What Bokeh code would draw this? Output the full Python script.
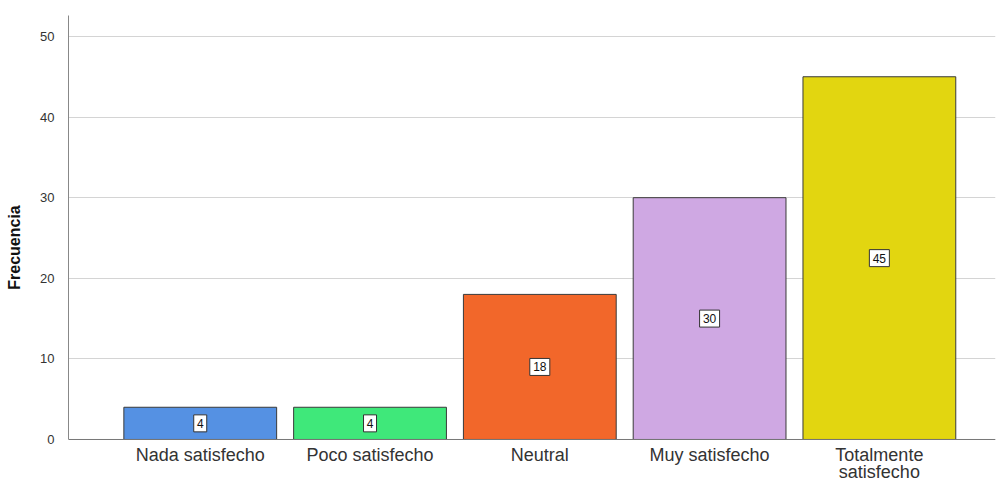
from bokeh.plotting import figure
from bokeh.models import ColumnDataSource, FixedTicker, Range1d, Span
from bokeh.core.properties import value
from bokeh.embed import file_html
from bokeh.resources import INLINE

categories = ["Nada satisfecho", "Poco satisfecho", "Neutral", "Muy satisfecho", "Totalmente\nsatisfecho"]
values = [4, 4, 18, 30, 45]
colors = ["#5591E3", "#3FE87A", "#F2672A", "#CFA8E3", "#E2D610"]
y_ticks = [0, 10, 20, 30, 40, 50]

Y_TOP = 52.6
Y_BOTTOM = -4.963   # room below the baseline for category labels

xs = list(range(len(categories)))
lbls = [str(v) for v in values]
src = ColumnDataSource(dict(
    x=xs, top=values, color=colors,
    mid=[v / 2 for v in values], lbl=lbls,
    bw=[6 + 7 * len(s) for s in lbls],
    cat=categories, cat_y=[-0.68] * len(categories),
))

p = figure(width=997, height=479, output_backend="svg", toolbar_location=None,
           x_range=Range1d(-0.776, 4.684), y_range=Range1d(Y_BOTTOM, Y_TOP),
           x_axis_location=None,
           min_border_left=68, min_border_top=15, min_border_bottom=0, min_border_right=2)
p.outline_line_color = None
p.xgrid.grid_line_color = None
p.ygrid.grid_line_color = "#d4d4d4"
p.ygrid.grid_line_width = 1

p.vbar(x="x", top="top", width=0.9, bottom=0, source=src, fill_color="color",
       line_color="#3a3a3a", line_width=1)

p.add_layout(Span(location=0, dimension="width", line_color="#777777", line_width=1))

p.rect(x="x", y="mid", width="bw", height=17, width_units="screen", height_units="screen",
       source=src, fill_color="white", line_color="#333333", line_width=1)
p.text(x="x", y="mid", text="lbl", source=src, text_align="center",
       text_baseline="middle", text_font_size="12px", text_color="#111111",
       text_font=value("Liberation Sans"))

# category labels under the baseline
p.text(x="x", y="cat_y", text="cat", source=src, text_align="center",
       text_baseline="top", text_font_size="18px", text_color="#333333",
       text_line_height=0.85, text_font=value("Liberation Sans"))

p.yaxis.ticker = FixedTicker(ticks=y_ticks)
p.yaxis.bounds = (0, Y_TOP)
p.yaxis.major_tick_line_color = None
p.yaxis.minor_tick_line_color = None
p.yaxis.axis_line_color = "#888888"
p.yaxis.major_label_text_font = "Liberation Sans"
p.yaxis.major_label_text_font_size = "13px"
p.yaxis.major_label_text_color = "#333333"
p.yaxis.major_label_standoff = 8
p.yaxis.axis_label = "Frecuencia"
p.yaxis.axis_label_text_font = "Liberation Sans"
p.yaxis.axis_label_text_font_size = "16px"
p.yaxis.axis_label_text_font_style = "bold"
p.yaxis.axis_label_text_color = "#111111"
p.yaxis.axis_label_standoff = 14

open("out.html", "w").write(file_html(p, INLINE))
